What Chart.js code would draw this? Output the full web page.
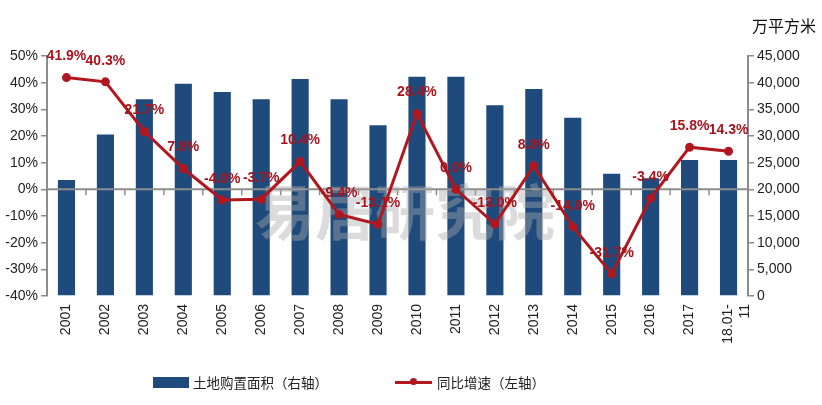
<!DOCTYPE html>
<html>
<head>
<meta charset="utf-8">
<script src="https://cdn.jsdelivr.net/npm/chart.js@4/dist/chart.umd.min.js"></script>
<style>
  body { margin: 0; background: #fff; }
  #wrap { position: relative; width: 822px; height: 405px; }
  #unit { position: absolute; left: 752px; top: 13px; font: 16px "Noto Sans CJK SC", sans-serif; color: #111; }
  .leg { position: absolute; top: 372px; font: 13.5px "Noto Sans CJK SC", sans-serif; color: #222; display: flex; align-items: center; }
  .box { width: 36px; height: 11px; background: #1f4a7c; margin-right: 4px; }
  .ln { position: relative; width: 37px; height: 3px; background: #b0171f; margin-right: 5px; }
  .ln::after { content: ""; position: absolute; left: 15px; top: -2.5px; width: 7px; height: 7px; border-radius: 50%; background: #b0171f; }
</style>
</head>
<body>
<div id="wrap">
  <canvas id="chart" width="822" height="405"></canvas>
  <div id="unit">万平方米</div>
  <div class="leg" style="left:153px"><div class="box"></div>土地购置面积（右轴）</div>
  <div class="leg" style="left:395px"><div class="ln"></div>同比增速（左轴）</div>
</div>
<script>
// years on the category axis
const years = ['2001', '2002', '2003', '2004', '2005', '2006', '2007', '2008', '2009',
  '2010', '2011', '2012', '2013', '2014', '2015', '2016', '2017', ['18.01-', '11']];

// land purchase area, 万平方米 (right axis)
const area = [21750, 30300, 36900, 39800, 38250, 36900, 40700, 36900, 32000,
  41100, 41100, 35750, 38800, 33400, 22900, 22100, 25500, 25500];

// year-on-year growth, % (left axis)
const growth = [41.9, 40.3, 21.7, 7.8, -4.0, -3.7, 10.4, -9.4, -13.1,
  28.4, 0.0, -13.0, 8.8, -14.0, -31.7, -3.4, 15.8, 14.3];

const barColor = '#1f4a7c';
const lineColor = '#b0171f';
const axisGray = '#8c8c8c';

// zero line with small ticks, watermark, value labels
const extras = {
  id: 'extras',
  afterDatasetDraw(chart, args) {
    if (args.index !== 0) return;
    const ctx = chart.ctx;
    const x = chart.scales.x, y = chart.scales.y;
    const y0 = y.getPixelForValue(0);
    ctx.save();
    ctx.strokeStyle = axisGray;
    ctx.lineWidth = 2;
    ctx.beginPath();
    ctx.moveTo(chart.chartArea.left, y0);
    ctx.lineTo(chart.chartArea.right, y0);
    ctx.stroke();
    ctx.lineWidth = 1.5;
    for (let i = 0; i < years.length - 1; i++) {
      const bx = (x.getPixelForValue(i) + x.getPixelForValue(i + 1)) / 2;
      ctx.beginPath();
      ctx.moveTo(bx, y0);
      ctx.lineTo(bx, y0 + 6);
      ctx.stroke();
    }
    // watermark
    ctx.fillStyle = 'rgba(170,170,170,0.42)';
    ctx.font = 'bold 60px "Noto Sans CJK SC"';
    ctx.textAlign = 'center';
    ctx.textBaseline = 'middle';
    ctx.fillText('易居研究院', 405, 212);
    ctx.restore();
  },
  afterDatasetsDraw(chart) {
    const ctx = chart.ctx;
    const meta = chart.getDatasetMeta(1);
    ctx.save();
    ctx.fillStyle = '#a8141c';
    ctx.font = 'bold 14px "Liberation Sans"';
    ctx.textAlign = 'center';
    ctx.textBaseline = 'middle';
    meta.data.forEach((pt, i) => {
      ctx.fillText(growth[i].toFixed(1) + '%', pt.x, pt.y - 21);
    });
    ctx.restore();
  }
};

const tickFont = { family: 'Liberation Sans', size: 14 };

new Chart(document.getElementById('chart'), {
  data: {
    labels: years,
    datasets: [
      {
        type: 'bar',
        label: '土地购置面积（右轴）',
        data: area,
        yAxisID: 'y1',
        backgroundColor: barColor,
        barPercentage: 0.44,
        categoryPercentage: 1,
        order: 2
      },
      {
        type: 'line',
        label: '同比增速（左轴）',
        data: growth,
        yAxisID: 'y',
        borderColor: lineColor,
        backgroundColor: lineColor,
        borderWidth: 3,
        pointRadius: 3,
        tension: 0,
        order: 1
      }
    ]
  },
  options: {
    responsive: false,
    animation: false,
    layout: { padding: { top: 56, left: 0, right: 0, bottom: 0 } },
    plugins: { legend: { display: false }, tooltip: { enabled: false } },
    scales: {
      x: {
        grid: { display: false, drawTicks: false },
        border: { display: false },
        ticks: { font: tickFont, color: '#222', minRotation: 90, maxRotation: 90, padding: 8, autoSkip: false },
        afterFit(s) { s.height = 109; }
      },
      y: {
        position: 'left',
        min: -40, max: 50,
        ticks: { stepSize: 10, font: tickFont, color: '#222', padding: 3, callback: v => v + '%' },
        grid: { drawOnChartArea: false, drawTicks: true, tickLength: 6, color: axisGray, lineWidth: 1.5 },
        border: { color: axisGray, width: 2 },
        afterFit(s) { s.width = 47; }
      },
      y1: {
        position: 'right',
        min: 0, max: 45000,
        ticks: { stepSize: 5000, font: tickFont, color: '#222', padding: 3 },
        grid: { drawOnChartArea: false, drawTicks: true, tickLength: 6, color: axisGray, lineWidth: 1.5 },
        border: { color: axisGray, width: 2 },
        afterFit(s) { s.width = 74; }
      }
    }
  },
  plugins: [extras]
});
</script>
</body>
</html>
